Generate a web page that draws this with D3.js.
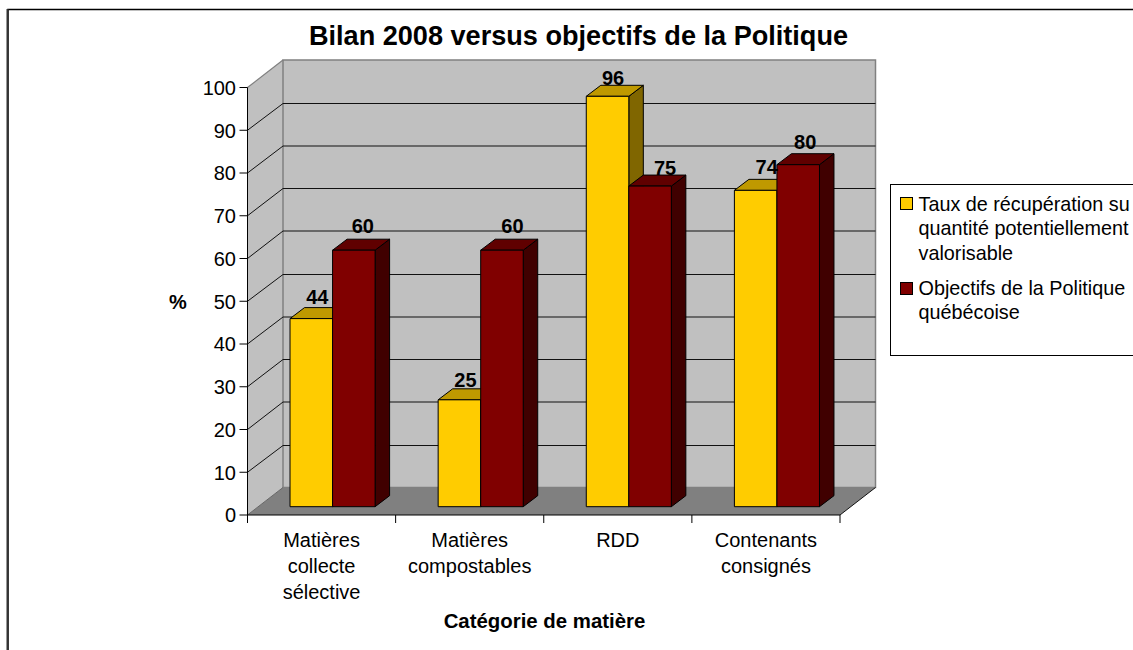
<!DOCTYPE html>
<html><head><meta charset="utf-8">
<script src="https://cdnjs.cloudflare.com/ajax/libs/d3/7.8.5/d3.min.js"></script>
<style>html,body{margin:0;padding:0;background:#fff;overflow:hidden}svg{display:block;font-family:"Liberation Sans",Arial,sans-serif}</style>
</head><body><svg id="c" width="1133" height="650"></svg>
<script>
const categories = [["Matières","collecte","sélective"],["Matières","compostables"],["RDD"],["Contenants","consignés"]];
const seriesA = [44,25,96,74];
const seriesB = [60,60,75,80];
const yTicks = d3.range(0,101,10);
const title = "Bilan 2008 versus objectifs de la Politique";
const xTitle = "Catégorie de matière";
const yTitle = "%";
const legendA = ["Taux de récupération su","quantité potentiellement","valorisable"];
const legendB = ["Objectifs de la Politique","québécoise"];

const svg = d3.select("#c");
const x = d3.scaleBand().domain(d3.range(categories.length)).range([247.5,840]);
const y = d3.scaleLinear().domain([0,100]).range([515,87.5]);
const DX = 35.5, DY = -27.5;
const pt = a => a.map(p=>p.join(",")).join(" ");

// outer frame
svg.append("rect").attr("x",8).attr("y",9.5).attr("width",1300).attr("height",800)
  .attr("fill","#fff").attr("stroke","#000").attr("stroke-width",1.5);
svg.append("line").attr("x1",7.5).attr("x2",7.5).attr("y1",9).attr("y2",650).attr("stroke","#333").attr("stroke-width",2);

const x0=x.range()[0], x1=x.range()[1], y0=y(0), yT=y(100);
// walls and floor
svg.append("polygon").attr("points",pt([[x0,y0],[x0+DX,y0+DY],[x0+DX,yT+DY],[x0,yT]])).attr("fill","#c0c0c0");
svg.append("polygon").attr("points",pt([[x0+DX,y0+DY],[x1+DX,y0+DY],[x1+DX,yT+DY],[x0+DX,yT+DY]]))
  .attr("fill","#c0c0c0").attr("stroke","#808080").attr("stroke-width",1.5);
svg.append("polygon").attr("points",pt([[x0,y0],[x1,y0],[x1+DX,y0+DY],[x0+DX,y0+DY]])).attr("fill","#808080");
svg.append("polyline").attr("points",pt([[x0,yT],[x0+DX,yT+DY]])).attr("fill","none").attr("stroke","#808080").attr("stroke-width",1.2);

// gridlines: every other line falls between two pixel rows in the reference
yTicks.filter(t=>t>0&&t<100).forEach(t=>{
  const by = y(t)+DY;
  const snapped = t%20===0 ? Math.round(by+0.3) : Math.round(by)+0.5;
  svg.append("polyline").attr("points",pt([[x0,y(t)],[x0+DX,snapped],[x1+DX,snapped]]))
    .attr("fill","none").attr("stroke","#111").attr("stroke-width",1);
});
svg.append("line").attr("x1",x1).attr("y1",y0).attr("x2",x1+DX).attr("y2",y0+DY).attr("stroke","#111");
svg.append("line").attr("x1",x0).attr("y1",y0).attr("x2",x0+DX).attr("y2",y0+DY).attr("stroke","#666");

// bars
const band = x.bandwidth();
const barW = band*42.5/148, pad = band*31.5/148;
const offX = 11, offY = -8.3, dX = 14.5, dY = -11;
const palette = [{f:"#ffcc00",t:"#bf9900",s:"#806600"},{f:"#800000",t:"#600000",s:"#400000"}];
function bar(i,k,v){
  const c = palette[k];
  const L = x(i)+offX+pad+k*barW, R = L+barW, B = y0+offY, T = y(v)+offY;
  const g = svg.append("g").attr("stroke","#000").attr("stroke-width",1).attr("stroke-linejoin","round");
  g.append("polygon").attr("points",pt([[R,B],[R+dX,B+dY],[R+dX,T+dY],[R,T]])).attr("fill",c.s);
  g.append("polygon").attr("points",pt([[L,T],[L+dX,T+dY],[R+dX,T+dY],[R,T]])).attr("fill",c.t);
  g.append("rect").attr("x",L).attr("y",T).attr("width",barW).attr("height",B-T).attr("fill",c.f);
}
categories.forEach((_,i)=>{bar(i,0,seriesA[i]);bar(i,1,seriesB[i]);});
// value labels, with the small per-label placement the reference shows
const nudgeX = [[6,9],[6,10.5],[5.5,15],[11,7]];
const nudgeY = [[-4,-6.5],[-2,-6.5],[0,0],[-5,-5]];
categories.forEach((_,i)=>{
  [seriesA[i],seriesB[i]].forEach((v,k)=>{
    svg.append("text").attr("x",x(i)+offX+pad+(k+.5)*barW+nudgeX[i][k]).attr("y",y(v)+offY+dY+nudgeY[i][k])
      .attr("text-anchor","middle").attr("font-size",20).attr("font-weight","bold").attr("fill","#000").text(v);
  });
});

// axes
const ax = svg.append("g").attr("stroke","#000").attr("stroke-width",1);
ax.append("line").attr("x1",x0).attr("x2",x0).attr("y1",yT).attr("y2",y0);
ax.append("line").attr("x1",x0).attr("x2",x1).attr("y1",y0).attr("y2",y0);
yTicks.forEach(t=>{
  ax.append("line").attr("x1",x0-8).attr("x2",x0).attr("y1",y(t)).attr("y2",y(t));
  svg.append("text").attr("x",x0-11.5).attr("y",y(t)+7.3).attr("text-anchor","end").attr("font-size",20).attr("fill","#000").text(t);
});
d3.range(categories.length+1).forEach(i=>{
  const px = i<categories.length ? x(i) : x1;
  ax.append("line").attr("x1",px).attr("x2",px).attr("y1",y0).attr("y2",y0+8);
});
categories.forEach((lines,i)=>{
  lines.forEach((s,j)=>{
    svg.append("text").attr("x",x(i)+band/2).attr("y",547+j*26).attr("text-anchor","middle").attr("font-size",20).attr("fill","#000").text(s);
  });
});

// titles
svg.append("text").attr("x",578.5).attr("y",45).attr("text-anchor","middle").attr("font-size",27.1).attr("font-weight","bold").text(title);
svg.append("text").attr("x",544.5).attr("y",628.3).attr("text-anchor","middle").attr("font-size",20.4).attr("font-weight","bold").text(xTitle);
svg.append("text").attr("x",178).attr("y",309.3).attr("text-anchor","middle").attr("font-size",20).attr("font-weight","bold").text(yTitle);

// legend
svg.append("rect").attr("x",890.5).attr("y",184.5).attr("width",400).attr("height",171).attr("fill","#fff").attr("stroke","#000");
svg.append("rect").attr("x",900.5).attr("y",197.5).attr("width",12).attr("height",12).attr("fill",palette[0].f).attr("stroke","#000");
svg.append("rect").attr("x",900.5).attr("y",282.5).attr("width",12).attr("height",12).attr("fill",palette[1].f).attr("stroke","#000");
legendA.forEach((s,j)=>svg.append("text").attr("x",918.5).attr("y",210.5+j*24.5).attr("font-size",19.8).text(s));
legendB.forEach((s,j)=>svg.append("text").attr("x",918.5).attr("y",294.5+j*24.5).attr("font-size",19.8).text(s));
</script></body></html>
